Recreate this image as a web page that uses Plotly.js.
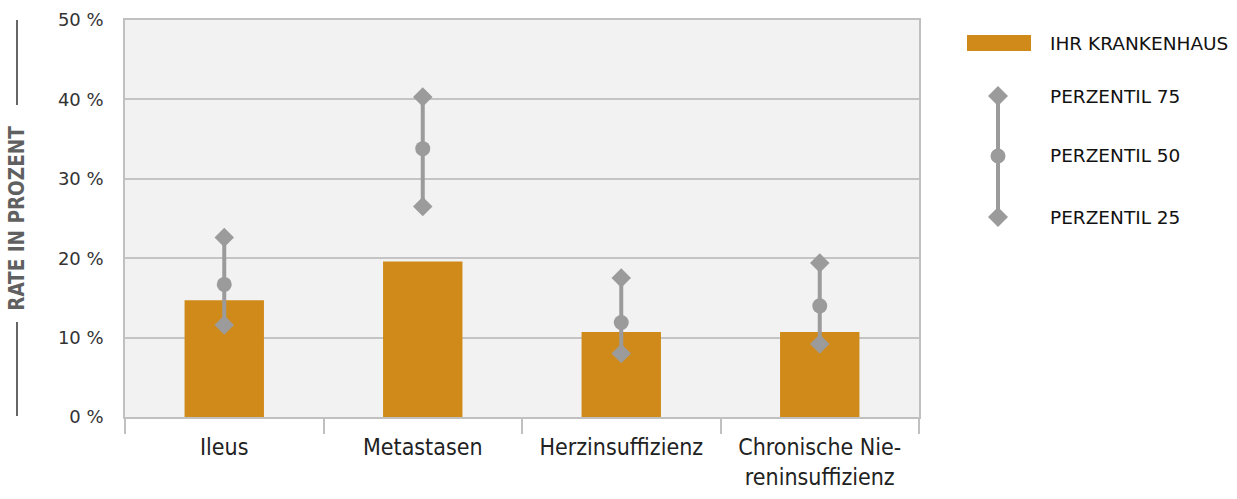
<!DOCTYPE html>
<html>
<head>
<meta charset="utf-8">
<script src="https://cdn.plot.ly/plotly-3.0.1.min.js"></script>
<style>html,body{margin:0;padding:0;background:#fff;}#chart{width:1237px;height:499px;}</style>
</head>
<body>
<div id="chart"></div>
<script>
const categories = ["Ileus", "Metastasen", "Herzinsuffizienz", "Chronische Nie-<br>reninsuffizienz"];
const hospitalRate = [14.7, 19.6, 10.7, 10.7];
const perzentil75 = [22.6, 40.3, 17.5, 19.4];
const perzentil50 = [16.7, 33.8, 11.9, 14.0];
const perzentil25 = [11.6, 26.5, 8.0, 9.2];
const yTickVals = [0, 10, 20, 30, 40, 50];
const yTickText = ["0 %", "10 %", "20 %", "30 %", "40 %", "50 %"];
const legendLabels = ["IHR KRANKENHAUS", "PERZENTIL 75", "PERZENTIL 50", "PERZENTIL 25"];

const orange = "#d08a19";
const grey = "#9b9b9b";
const condensed = "'Liberation Sans Narrow', 'DejaVu Sans Condensed', 'DejaVu Sans', sans-serif";

// vertical connector lines built from percentile arrays
const lx = [], ly = [];
categories.forEach((c, i) => { lx.push(c, c, null); ly.push(perzentil25[i], perzentil75[i], null); });

const traces = [
  {type: "bar", x: categories, y: hospitalRate, marker: {color: orange}, width: 0.4, hoverinfo: "y", showlegend: false},
  {type: "scatter", mode: "lines", x: lx, y: ly, line: {color: grey, width: 4}, showlegend: false, hoverinfo: "skip"},
  {type: "scatter", mode: "markers", x: categories, y: perzentil75, marker: {symbol: "diamond", size: 15, color: grey}, showlegend: false},
  {type: "scatter", mode: "markers", x: categories, y: perzentil50, marker: {symbol: "circle", size: 15, color: grey}, showlegend: false},
  {type: "scatter", mode: "markers", x: categories, y: perzentil25, marker: {symbol: "diamond", size: 15, color: grey}, showlegend: false}
];

// legend helpers (paper coordinates from pixel positions)
const L = 125, R = 919, T = 20, B = 417;
const px = x => (x - L) / (R - L);
const py = y => (B - y) / (B - T);
const diamond = "M0,-10 L10,0 L0,10 L-10,0 Z";

const shapes = [
  // decorative lines around y title
  {type: "line", xref: "paper", yref: "paper", x0: px(17), x1: px(17), y0: py(20), y1: py(105), line: {color: "#666", width: 2}},
  {type: "line", xref: "paper", yref: "paper", x0: px(17), x1: px(17), y0: py(322), y1: py(416), line: {color: "#666", width: 2}},
  // legend
  {type: "rect", xref: "paper", yref: "paper", x0: px(967), x1: px(1031), y0: py(51), y1: py(35), fillcolor: orange, line: {width: 0}},
  {type: "line", xref: "paper", yref: "paper", x0: px(998), x1: px(998), y0: py(96), y1: py(217), line: {color: grey, width: 4}},
  {type: "path", xref: "paper", yref: "paper", xsizemode: "pixel", ysizemode: "pixel", xanchor: px(998), yanchor: py(96), path: diamond, fillcolor: grey, line: {width: 0}},
  {type: "circle", xref: "paper", yref: "paper", xsizemode: "pixel", ysizemode: "pixel", xanchor: px(998), yanchor: py(156), x0: -7.5, x1: 7.5, y0: -7.5, y1: 7.5, fillcolor: grey, line: {width: 0}},
  {type: "path", xref: "paper", yref: "paper", xsizemode: "pixel", ysizemode: "pixel", xanchor: px(998), yanchor: py(217), path: diamond, fillcolor: grey, line: {width: 0}}
];

const legendY = [43, 96, 156, 217];
const annotations = legendLabels.map((t, i) => ({
  xref: "paper", yref: "paper", x: px(1048), y: py(legendY[i]), xanchor: "left", yanchor: "middle",
  text: t, showarrow: false, font: {family: "DejaVu Sans, sans-serif", size: 18.5, color: "#111"}
}));

const layout = {
  width: 1237, height: 499,
  margin: {l: 125, r: 318, t: 20, b: 82},
  paper_bgcolor: "#ffffff",
  plot_bgcolor: "#f2f2f2",
  showlegend: false,
  bargap: 0.6,
  xaxis: {
    type: "category",
    tickson: "boundaries",
    ticks: "outside", ticklen: 15, tickwidth: 2, tickcolor: "#c0c0c0",
    ticklabelstandoff: 8,
    showgrid: false,
    showline: true, linecolor: "#c0c0c0", linewidth: 2, mirror: true,
    tickfont: {family: condensed, size: 23, color: "#222"},
    fixedrange: true
  },
  yaxis: {
    range: [0, 50],
    tickvals: yTickVals, ticktext: yTickText,
    showgrid: true, gridcolor: "#c4c4c4", gridwidth: 1.5,
    showline: true, linecolor: "#c0c0c0", linewidth: 1.5, mirror: true,
    zeroline: false,
    ticks: "", ticklabelstandoff: 16,
    tickfont: {family: "DejaVu Sans, sans-serif", size: 18, color: "#333"},
    title: {text: "RATE IN PROZENT", standoff: 28, font: {family: "'DejaVu Sans Condensed', 'DejaVu Sans', sans-serif", size: 20.5, color: "#606060", weight: "bold"}},
    fixedrange: true
  },
  shapes: shapes,
  annotations: annotations
};

Plotly.newPlot("chart", traces, layout, {displayModeBar: false});
</script>
</body>
</html>
